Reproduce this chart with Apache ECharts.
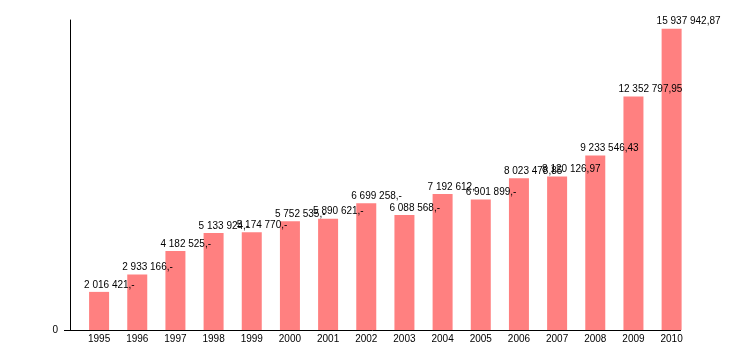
<!DOCTYPE html>
<html>
<head>
<meta charset="utf-8">
<script src="https://cdn.jsdelivr.net/npm/echarts@6/dist/echarts.min.js"></script>
<style>
  html, body { margin: 0; padding: 0; background: #fff; }
  #chart { width: 730px; height: 350px; }
</style>
</head>
<body>
<div id="chart"></div>
<script>
// Yearly totals, 1995–2010
const years = ['1995', '1996', '1997', '1998', '1999', '2000', '2001', '2002',
               '2003', '2004', '2005', '2006', '2007', '2008', '2009', '2010'];
const totals = [2016421, 2933166, 4182525, 5133924, 5174770, 5752535, 5890621, 6699258,
                6088568, 7192612, 6901899, 8023478.85, 8120126.97, 9233546.43, 12352797.95, 15937942.87];
const yTickLabels = ['0'];

// "2 016 421,-" for whole amounts, "8 023 478,85" otherwise
function formatAmount(v) {
  const whole = Math.floor(v);
  const cents = Math.round((v - whole) * 100);
  const grouped = String(whole).replace(/\B(?=(\d{3})+(?!\d))/g, ' ');
  return cents === 0 ? grouped + ',-' : grouped + ',' + String(cents).padStart(2, '0');
}

const chart = echarts.init(document.getElementById('chart'), null, { renderer: 'canvas' });
const font = 'Liberation Sans, Arial, Helvetica, sans-serif';

chart.setOption({
  animation: false,
  backgroundColor: '#ffffff',
  textStyle: { fontFamily: font },
  grid: { left: 80, right: 39.3, top: 20, bottom: 20 },
  xAxis: {
    type: 'category',
    data: years,
    axisLine: { show: false },
    axisTick: { show: false },
    axisLabel: { color: '#000', fontSize: 10, fontFamily: font, margin: 4 }
  },
  yAxis: {
    type: 'value',
    min: 0,
    max: 16400000,
    interval: 16400000,
    offset: 10,
    splitLine: { show: false },
    axisLine: { show: true, lineStyle: { color: '#000', width: 1 } },
    axisTick: { show: false },
    axisLabel: {
      color: '#000', fontSize: 10, fontFamily: font, margin: 12,
      formatter: function (v) { return v === 0 ? yTickLabels[0] : ''; }
    }
  },
  series: [{
    type: 'bar',
    data: totals,
    barWidth: 20,
    itemStyle: { color: '#ff8080' },
    label: {
      show: true,
      position: 'top',
      align: 'left',
      offset: [-15, 0],
      distance: 2,
      color: '#000',
      fontSize: 10,
      fontFamily: font,
      formatter: function (p) { return formatAmount(p.value); }
    }
  }],
  // baseline under the bars, starting with the short tick left of the value axis
  graphic: [{
    type: 'line',
    shape: { x1: 64, y1: 330.5, x2: 681, y2: 330.5 },
    style: { stroke: '#000', lineWidth: 1 },
    z: 10
  }]
});
</script>
</body>
</html>
